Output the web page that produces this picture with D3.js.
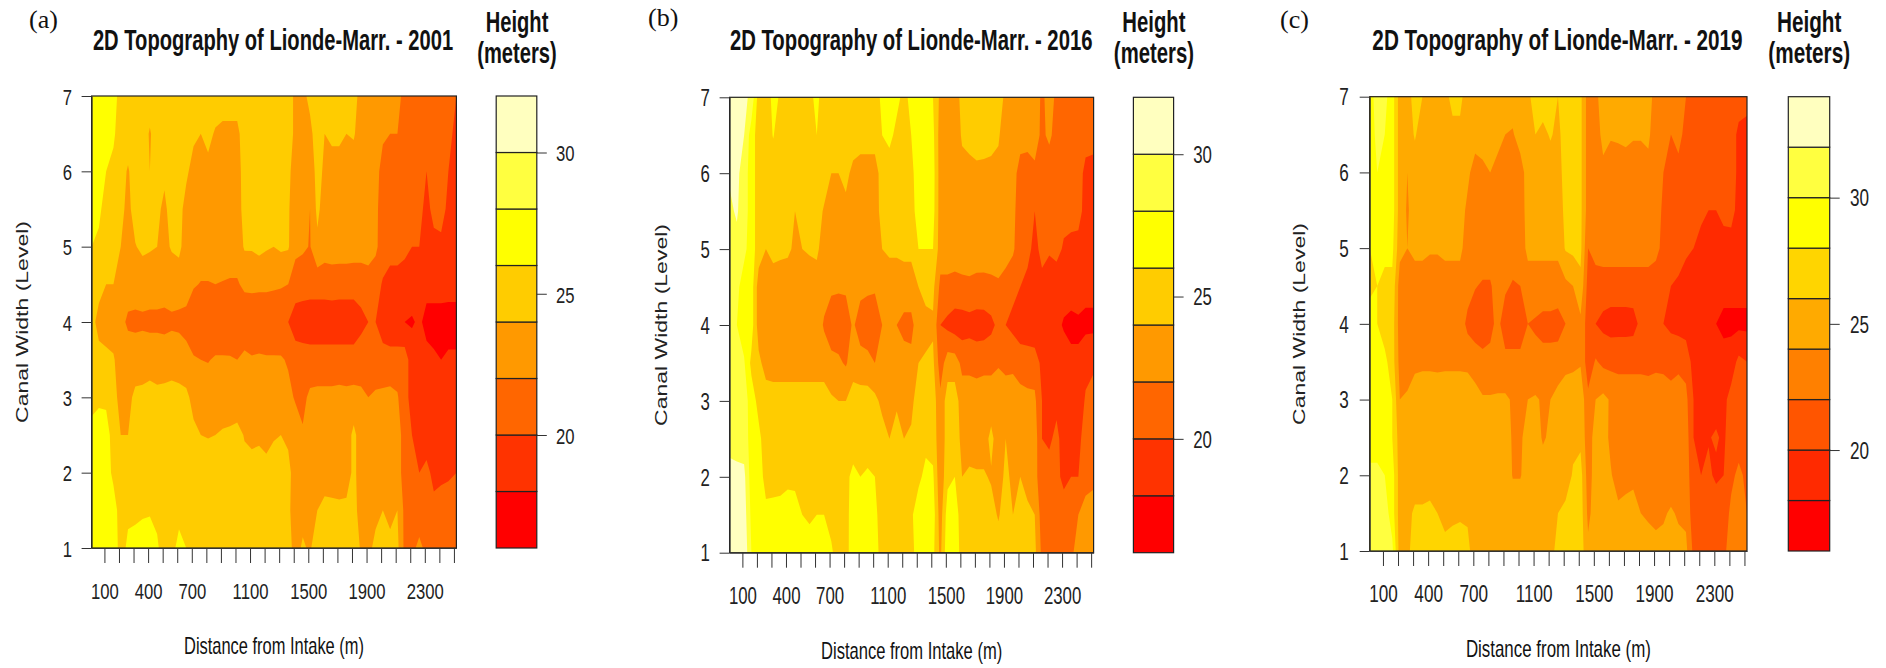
<!DOCTYPE html>
<html>
<head>
<meta charset="utf-8">
<script src="https://cdn.jsdelivr.net/npm/d3@7/dist/d3.min.js"></script>
<style>
body { margin: 0; background: #fff; }
</style>
</head>
<body>
<svg id="svg" width="1886" height="668"></svg>
<script>
// distance along the canal for each grid column (m)
var stations = [12,62,112,162,212,262,312,362,412,462,512,562,612,662,712,762,812,862,912,962,
    1012,1062,1112,1162,1212,1262,1312,1362,1412,1462,1512,1562,1612,1662,1712,1762,1812,1862,1912,1962,
    2012,2062,2112,2162,2212,2262,2312,2362,2412,2462,2517];
// canal width level for each grid row, top row first
var levels = [7,6.5,6,5.5,5,4.5,4,3.5,3,2.5,2,1.5,1];

var distanceTicks = [100,200,300,400,500,600,700,800,900,1000,1100,1200,1300,1400,1500,1600,1700,1800,1900,2000,2100,2200,2300,2400,2500];
var distanceLabels = [100,400,700,1100,1500,1900,2300];
var levelTicks = [1,2,3,4,5,6,7];
var legendTicks = [20,25,30];

var breaks8 = [16,18,20,22,24,26,28,30,32];
var breaks9 = [16,18,20,22,24,26,28,30,32,34];
var heat8 = ["#FF0000","#FF3300","#FF6600","#FF9900","#FFCC00","#FFFF00","#FFFF40","#FFFFBF"];
var heat9 = ["#FF0000","#FF2A00","#FF5500","#FF8000","#FFAA00","#FFD500","#FFFF00","#FFFF40","#FFFFBF"];

// heights, one row per level
var height2001 = [
 [26.5,27,26.5,27,25,25,25,25,25,25, 25,25,25,25,25,25,25,25,25,25, 25,25,25,25,25,25,25,25,23.5,23.5, 24.5,25,25,24.5,24.5,25,24.5,23.5,23.5,23, 23,22.5,22.5,21.5,21.5,21.5,21.5,21.5,21.5,21, 20],
 [27.5,27.5,26.5,26.3,25,25,25,25,23.8,25, 25,25,25,25,24.5,24,24.5,23.8,23.5,23.5, 23.5,25,25,24.5,25,25,24.5,25,23.5,23.5, 23.5,25,24,24.5,24.5,24,24.2,23,23.5,23, 22.2,22,22,21.5,21,21,20.5,21,21,20.5, 19.5],
 [27,27,26,25.5,24.8,23.8,25,25,24,25, 24.5,25,25,24.5,23,23,23.5,23,23,23, 23,25,25,24.5,25,24.5,25,24.5,23,23, 22.3,25,23.5,23,23,23,23,23,22.5,22.5, 21.5,20.5,21,21,20.5,20.5,20,21,21,20, 19.5],
 [26.5,26.5,25,25,24.5,23.5,24.8,25,24,24.5, 23.5,25,25,23,23,23,23,23,23,23, 23,24.8,24.5,24,24.5,24,24.5,24.2,23,22.8, 22,24.5,23,23,23,23,23,23,22.8,22.5, 21,20.5,21,20.5,20.5,20.5,19.5,20.5,20.8,19.5, 19],
 [26,25.5,25,25,24,23.5,23.9,24.4,24.2,24, 23.5,24.2,24.5,23,23,23,23,23,23,23, 23,24.2,24.2,24.5,24.2,24,24.3,24.2,22.5,22.3, 21.9,23.5,22.9,23,23,23,22.9,22.9,23,22.4, 21,20.5,20.5,20.5,20,20,19.5,19.5,19.5,19, 19],
 [25,24.5,24,24,23,22.8,22.8,22.8,22.8,22.8, 22.8,22.8,22.8,22.7,22.2,21.9,21.9,22,21.9,21.8, 21.8,22.4,22.5,22.4,22.4,22.3,22.2,22,21,20.8, 20.8,20.8,20.8,20.9,20.8,20.8,20.8,20.8,21,20.8, 19.8,19.5,19.5,19,19,19.2,18.5,18.5,18.7,18.7, 18.7],
 [24.5,23.5,23,23,22.5,21.7,21.6,21.7,21.6,21.6, 21.5,21.7,21.6,21.5,20.5,20.5,20.4,20.5,20.5,20.3, 20.5,20.5,20.4,20.5,20.5,20.5,20.4,20,19,19, 18.8,18.8,18.8,18.8,18.8,18.8,18.8,19.5,20,20, 19,18.5,18.5,18,17.8,18.3,17.5,17.5,17.3,17.2, 17.2],
 [25,24.5,24.5,24.2,23,23,23,23,23,23, 23,23,23,22.5,22.2,22,21.9,22.2,22.2,22.2, 22,22.5,22.2,22.3,22.2,22.2,22.2,21.8,21,20.8, 20.8,20.8,20.8,20.8,20.8,20.8,20.8,21,21,20.8, 20.8,20.8,20.8,21,19,19,18.5,18.2,18,18.3, 18.3],
 [25,25.8,25.5,24.5,23.5,23.5,24.4,24.5,24.8,24.5, 24.6,24.8,24.6,24.5,23.3,23,23,23,23,23, 23,23,23,23,23,23,23,22.5,21.8,21.5, 22.4,22.5,22.5,22.5,22.6,22.5,22.6,22.4,22,22.3, 22.4,22.5,22.2,20.5,19.5,19.2,18.8,18.8,19,19, 19],
 [27,26.5,27,25,24,24,25,25,25,25, 25,25,25,25,24.5,24,23.9,24,24.2,24.3, 24.5,23.9,23.7,23.8,23.8,23.9,24,23.8,23,22.2, 23,23,23,23,23,23,24.5,23,23,23, 23,23,23,21,20,19.5,19,19.4,19.2,19, 19.5],
 [27.5,27,27,25.5,25,25,25,25,25,25, 25,25,25,25,25,25,25,25,25,25, 25,24.5,24.5,24.5,24.2,24.5,24.7,24.3,23.5,22.7, 23,23.5,23,23,23,23,24.5,23,23,23.4, 23,23.5,23,21,20.5,20,20.5,19.5,19.5,19.7, 20],
 [27.5,27.5,27.5,27,25,25.5,25.5,25.7,25.8,25.5, 25,25,25.5,25,25,25,25,25,25,25, 25,25,25,25,25,25,24.8,24.2,23.5,23.5, 23.5,24,24.6,24.5,24.4,24.5,24.4,23.5,23,23.5, 24,23,24,21.5,21,20.8,20.8,20.5,21,21, 21],
 [27.5,27.5,27.5,27.5,25,26.5,26.8,27,27,26.3, 25,25.5,26.5,26,25,25,25,25,25,25, 25,25,25,25,25,25,25,24.5,23.5,24.2, 23.8,25,25,25,25,25,25,23.8,23.5,24.5, 24.5,25,24.5,21.5,21.5,22.5,21.5,21,22,22, 22]
];

var height2016 = [
 [31,31,30.5,29.5,25,25,26.5,25.8,25,25.5, 25,25.5,26.5,25,25,25,25,25,25,25, 25,26.5,27,26.5,25.5,26.5,27,27,26,23.5, 23.5,23.2,24.5,25,25,25,25,25,23.5,24, 23,22.5,23.5,21.5,23,21.5,21,21,21,21, 21],
 [30.8,31,30,27,25,25,26.1,25,25,25.3, 25,25.2,26,25,25,25,25,25,25,25, 25,26,26.5,25.5,25,26,27,27,26.5,23, 23,23,24.2,24.5,24.6,24.5,24.6,24.2,23,23, 22.5,22.4,23,21.5,22.5,21,21,21,20.8,20.7, 20.5],
 [30.2,30.5,29,27,25,25,25,24.2,24,25, 25,25,25,25,24,24,24.5,23.5,23,23, 23,25,25,25.5,25,25.5,27,26.8,26.8,23, 23,23,23.5,23.5,23.7,23.7,23.5,23.5,22.8,22.5, 21.5,21.5,21.5,21,20.5,21,20.5,21,20.8,19.5, 19.5],
 [29.7,30.2,29,27,25,24,24.8,24.8,24,24, 24.1,24.5,24.8,23.8,23.5,23.2,23.5,23,23,23, 23,24.8,25,25,25,25.3,26.8,26.6,26.7,23, 23,23,23,23,23,23,23,23,22.4,22.5, 21,20.8,20,20.8,20.5,20.5,20.5,20.5,20.5,19.5, 19.5],
 [29,29.5,28.5,27,25,24,24.6,24.4,24.3,23.7, 24,24.2,24.4,23,23,23,23,23,23,23, 23,24,24.3,24.3,24.5,24.5,26,26,26,23, 23,23,23,23,23,22.8,23,23,22.5,22.3, 20.8,20.5,19.5,20.5,20.2,20.5,19.8,19.6,19.5,19.3, 19],
 [29,28.5,27,27,23,23,23,23,23,23, 23,23,23,22.7,22.3,22.2,22.2,22.7,22.4,22.3, 22.2,23,23,23,23,23,24,24.5,24.5,21.5, 21.5,21.3,21.5,21.6,21.4,21.5,21.5,21.7,21.5,20.5, 20,19.5,19.3,19.5,19,19,18.8,18.8,18.8,18.6, 18.6],
 [29,28,27,27,23,23,23,23,23,23, 23,23,23,21.8,21,21,21.3,22.2,21.3,21, 21,22,22.5,22,21.5,21.5,23,23.5,23.7,20, 19.5,19,19,19.2,19,19,19.5,20.5,20,19.5, 19,18.8,18.5,18.5,18.5,18.5,17.8,17.5,17.7,17.5, 17.5],
 [29,29,28.2,25.5,24.5,23.2,23,23,23,23, 23,23,23,23,22.5,22.3,21.8,23,22.6,22.5, 22,22,22.5,22.7,22.7,22.5,24,24.2,24.4,21, 23,23,21.5,21.5,21.3,21.5,21.5,21.7,21.5,21.5, 21,21,21,19.5,19.2,19,19,18.5,18.3,19.5, 19.8],
 [29,29,29,27,25.4,25,25,25,25,25, 25,25,25,25,24.3,24,24,25,25,25, 24.5,23.5,23.5,23.7,23.8,23.5,25,25,25,22.5, 25,25,23,23,23,23,23,24,23,23.2, 22.8,22.5,22.4,20,19.7,19.7,19.5,19.2,19,20.2, 20.5],
 [29,28.5,29,27.2,26.5,25,25,25,25,25, 25,25,25,25,25,25,25,25,25,25, 25,24.8,24,24.8,24,24.3,25.5,25.5,25.3,22.5, 25,25,23.5,23.2,23.2,23.2,24.5,23,24,23.2, 23.5,23.4,23,20,19.8,20.3,19.5,19.6,19.7,20.5, 21],
 [31,31,30.5,27,27,25.3,25.4,25.5,25.5,25.7, 25,25,25.2,25.3,25,25,25.5,26.5,26,26.3, 26,25,25,25,25,25,25.6,26.5,26.3,22.5, 25.5,26,24,24.3,24.2,24.2,23.8,23,24.5,23.5, 24,23.5,22.8,20.5,20.5,20.5,19.5,20,20,21, 21.5],
 [31,31,31,27.5,27,26.5,26.5,26.5,27,26.5, 26,25.5,26,26,25.3,25,25.3,27,27,27, 26.5,25,25,25,25,25.7,27,27,27,23, 27,27,25,25,25,25,24.7,23.8,25,24, 24.8,24.3,24,21,21.3,21.3,21,20.8,22,23, 23],
 [31.5,31.5,31.5,28,27.5,27.5,27.5,27.5,27.5,27.5, 27.5,27.5,27.5,27.5,26.3,25,25,27.5,27.5,27.5, 27,25,25,25,25,25,27.5,27.5,26.5,23.5, 27.5,27.5,25,25,25,25,25,25,25.5,25, 25.5,25,24.5,21.5,21.5,21.5,21.5,21.5,23,23.5, 24]
];

var height2019 = [
 [29,31,30.5,29,25,25,27,26,25,25, 25.5,26.5,26.5,25,25,25,25,25,25,25, 25,25.5,27,27,26.5,26,27,27,26.5,23, 23.5,25,25,25,25,25,25,25,23,24, 22,23,22,22,21,21,21,21,21,21, 20.5],
 [29,30.5,30,29,25,25,26.2,25,24,25, 25,25.5,25.5,25,25,25,25,25,24,23.8, 25,25,26,25.5,26.2,25.5,27,27,26.5,23, 23,24.6,24.2,24.3,24.5,24.2,24.2,24.3,23,23.5, 22,22.5,21.5,21,20.5,20.8,20,20.5,21,19.5, 19.5],
 [29,30,29.5,29,25,24,25,24.5,24,25, 24.5,25,25,24.5,23,23.5,24,23,23,23, 23,25,25,25,25,25.5,26.5,26.5,26.5,23, 23,23.5,23,23,23,23,23,23.5,22.5,22, 21,21.5,20.5,21,20.2,20.5,20,21,21,19.5, 19],
 [28.5,29.5,29,29,25,23.8,24.8,25,24,24.5, 25,24.5,25,23.5,23,23,23,23,23,23, 23,24.8,24.8,25,24.5,25,26.5,26.5,26.5,23, 23,23,23,23,23,23,23,23,22.5,21.8, 20.5,21,20.5,20.8,20.2,20,20,20.5,20.5,19.5, 19],
 [28,29,28.5,28.5,24.6,24,24.5,24.5,24.2,24.2, 24.5,24.5,24.5,23,23,23,23,23,23,23, 23,24.5,24.5,24.5,24.5,24.5,26.2,26.5,26.5,22, 22.8,23,23,23,23,23,23,23,22.5,21.5, 20.3,20.8,20.2,20,19.7,19.6,19.5,19.3,19.4,19, 19],
 [27.5,28,27.5,27.5,23,23,23,23,23,23, 23,23,23,22.8,22.1,21.8,21.8,22.8,22.3,21.8, 22,23,23,23,23,23,23.5,24,25.5,21.2, 21,21,21,21,21,21,21,21,21,20.5, 20,19.7,19.5,19,18.8,18.8,18.8,18.7,18.7,18.7, 18.7],
 [29,28,27,27,23,23,23,23,23,23, 23,23,23,21.5,21,21,21.5,22.5,21,21, 21,22,21.8,21.5,21.5,21.3,22,23,23.5,21, 20,19.5,19.2,19.2,19.2,19.3,20.5,20.5,20.5,20, 19.5,19.3,19,18.5,18.5,18.5,18,17.5,17.5,17.5, 17.5],
 [29,29,28.5,27,23.3,23,23.3,23.5,23.5,23.4, 23.5,23.5,23.5,23.4,23,22.5,22.5,22.5,22.5,22.5, 22.5,22.5,22.5,22.5,22.5,22.8,23.3,23.5,23.8,20.8, 22.2,21.5,21.4,21.5,21.5,21.5,21.5,21.4,21.5,21.5, 21.5,21.5,21.3,19.2,19.2,19,18.8,18.8,19,20.5, 20],
 [29,29,29,28,24,24.3,25.5,25.5,25.5,25.5, 25.5,25.5,25.5,25.5,24.8,24.2,24.2,24.3,24.3,23.8, 23.7,24,24.2,23.8,24,24.7,25.3,25.3,25.3,22.5, 24,24.5,23.8,23,23,23,23,23,23.2,23, 22.5,23,22.5,20,19.5,19.5,19.3,19.5,20.7,20.5, 20.5],
 [29,29,29,28,25,25,25,25,25,25, 25,25,25,25,25,25,25,25,24.8,23.8, 23.8,24.5,24.8,23.8,24.3,24.8,25,25.5,25.5,22.8, 25,25,23.5,23,23,23,23,23,23.8,23, 23,23.3,23,20,19.8,19.9,20.2,19.7,21,21, 21],
 [30.5,30.5,30,29,25,25,25,25,25,25, 25,25,25,25,25,25,25,25,25,23.9, 23.9,24.7,25,24.8,25,24.7,25,26.2,26.8,23, 25,25,24.2,23,23.2,23.7,23.5,23,23,23.2, 23,23,23.3,20.3,20,20.3,19.7,20,21.5,22.5, 21.5],
 [31,31,31,29,25,25.5,26.3,26.3,26.5,26, 25.5,25.5,25.7,25.7,25,25,25,25,25,25, 25,25,25,25,25,26,26.5,27,27,23.5, 25,25,25,24.5,24.8,24.5,24,23.5,23.5,23.8, 24.2,23.8,23.5,20.8,20.5,20.7,21,20.8,22.5,23, 22],
 [31,31,31,30.5,25,25.5,27,27,27,26, 26.5,27,27,26.5,25,25,25,26,25,25, 25,25,25,25,25,27,27,27,27,24.5, 25,25,25,25,25,25,25,25.5,24.6,24.5, 25.5,24.5,24.5,21.5,21.7,21.5,21.5,21.5,23,23.5, 23]
];

var panels = [
    {tag:"(a)", tagX:29, tagY:28, title:"2D Topography of Lionde-Marr. - 2001", rows:height2001, breaks:breaks8, colors:heat8, sx:0.695,
     left:91.6, right:456.4, top:96, bottom:548, legL:496.2, legR:536.8, titleX:273, legC:517, numX:565.3, levX:67.5, yLabX:28, yLabY:322, xLabBase:654, xTickBase:51},
    {tag:"(b)", tagX:648, tagY:25.5, title:"2D Topography of Lionde-Marr. - 2016", rows:height2016, breaks:breaks8, colors:heat8, sx:0.70,
     left:729.6, right:1093.6, top:97.3, bottom:552.7, legL:1133.4, legR:1173.6, titleX:911.2, legC:1153.9, numX:1202.5, levX:705.1, yLabX:667, yLabY:325, xLabBase:659, xTickBase:51},
    {tag:"(c)", tagX:1280, tagY:28, title:"2D Topography of Lionde-Marr. - 2019", rows:height2019, breaks:breaks9, colors:heat9, sx:0.715,
     left:1369.7, right:1747, top:96.7, bottom:551, legL:1788.3, legR:1829.7, titleX:1557.5, legC:1809.2, numX:1859.5, levX:1344, yLabX:1305, yLabY:324, xLabBase:656.7, xTickBase:51}
];

var svg = d3.select("#svg");
var sans = "'Liberation Sans', Arial, sans-serif";

// the source figure is squeezed sideways, so text is scaled the same way
function squeezed(g, x, y, str, size, weight, sx) {
    return g.append("text")
        .attr("transform", "translate(" + x + "," + y + ") scale(" + sx + ",1)")
        .attr("text-anchor", "middle")
        .attr("font-family", sans)
        .attr("font-size", size + "px")
        .attr("font-weight", weight)
        .attr("fill", "#111")
        .text(str);
}

panels.forEach(function(p) {
    var g = svg.append("g");
    var squeeze = p.sx + 0.03;

    var x = d3.scaleLinear().domain([12,2517]).range([p.left,p.right]);
    var y = d3.scaleLinear().domain([1,7]).range([p.bottom,p.top]);

    // contour coordinates sit half a cell off the grid index
    var colDist = d3.scaleLinear().domain(stations.map(function(d,i){return i+0.5;})).range(stations).clamp(true);
    var rowLevel = d3.scaleLinear().domain(levels.map(function(d,i){return i+0.5;})).range(levels).clamp(true);

    var path = d3.geoPath(d3.geoTransform({
        point: function(a,b) { this.stream.point(x(colDist(a)), y(rowLevel(b))); }
    }));

    var values = [];
    p.rows.forEach(function(r) {
        stations.forEach(function(s,c) { values.push(r[Math.min(c,r.length-1)]); });
    });

    var contours = d3.contours()
        .size([stations.length,levels.length])
        .thresholds(p.breaks.slice(0,-1))(values);

    g.selectAll("path.band")
        .data(contours)
        .enter().append("path")
        .attr("class","band")
        .attr("d",path)
        .attr("fill",function(d,i){return p.colors[i];});

    g.append("rect")
        .attr("x",p.left).attr("y",p.top)
        .attr("width",p.right-p.left).attr("height",p.bottom-p.top)
        .attr("fill","none").attr("stroke","#222").attr("stroke-width",1.2);

    var xAxis = d3.axisBottom(x).tickValues(distanceTicks).tickSize(15).tickSizeOuter(0)
        .tickFormat(function(d){ return distanceLabels.indexOf(d) >= 0 ? d : ""; });
    var xg = g.append("g").attr("transform","translate(0,"+p.bottom+")").call(xAxis);
    xg.selectAll("text")
        .attr("y",p.xTickBase).attr("dy",0)
        .attr("transform","scale("+squeeze+",1)");

    var yAxis = d3.axisLeft(y).tickValues(levelTicks).tickSize(10).tickSizeOuter(0).tickFormat(d3.format("d"));
    var yg = g.append("g").attr("transform","translate("+p.left+",0)").call(yAxis);
    yg.selectAll("text")
        .attr("text-anchor","middle")
        .attr("x",(p.levX-p.left)/squeeze)
        .attr("dy","0.36em")
        .attr("transform","scale("+squeeze+",1)");

    // legend
    var topBreak = p.breaks[p.breaks.length-1];
    var leg = d3.scaleLinear().domain([16,topBreak]).range([p.bottom,p.top]);
    g.selectAll("rect.key")
        .data(p.colors)
        .enter().append("rect")
        .attr("class","key")
        .attr("x",p.legL)
        .attr("width",p.legR-p.legL)
        .attr("y",function(d,i){return leg(p.breaks[i+1]);})
        .attr("height",function(d,i){return leg(p.breaks[i])-leg(p.breaks[i+1]);})
        .attr("fill",function(d){return d;})
        .attr("stroke","#222").attr("stroke-width",1.2);

    var legAxis = d3.axisRight(leg).tickValues(legendTicks).tickSize(10).tickSizeOuter(0);
    var lg = g.append("g").attr("transform","translate("+p.legR+",0)").call(legAxis);
    lg.select(".domain").remove();
    lg.selectAll("text")
        .attr("text-anchor","middle")
        .attr("x",(p.numX-p.legR)/squeeze)
        .attr("dy","0.36em")
        .attr("transform","scale("+squeeze+",1)");

    g.selectAll(".tick line").attr("stroke","#333");
    g.selectAll(".domain").attr("stroke","#333");
    g.selectAll(".tick text")
        .attr("font-family",sans).attr("font-size","23px").attr("fill","#222");

    // titles and axis labels
    squeezed(g,p.titleX,50,p.title,29,"bold",p.sx);
    squeezed(g,p.legC,32,"Height",29,"bold",p.sx);
    squeezed(g,p.legC,63,"(meters)",29,"bold",p.sx);
    squeezed(g,(p.left+p.right)/2,p.xLabBase,"Distance from Intake (m)",23,"normal",p.sx + 0.02);

    g.append("text")
        .attr("transform","translate("+p.yLabX+","+p.yLabY+") scale("+p.sx+",1) rotate(-90)")
        .attr("text-anchor","middle")
        .attr("font-family",sans)
        .attr("font-size","23px")
        .attr("fill","#222")
        .text("Canal Width (Level)");

    g.append("text")
        .attr("x",p.tagX).attr("y",p.tagY)
        .attr("font-family","'Liberation Serif', serif")
        .attr("font-size","26px")
        .attr("fill","#111")
        .text(p.tag);
});
</script>
</body>
</html>
